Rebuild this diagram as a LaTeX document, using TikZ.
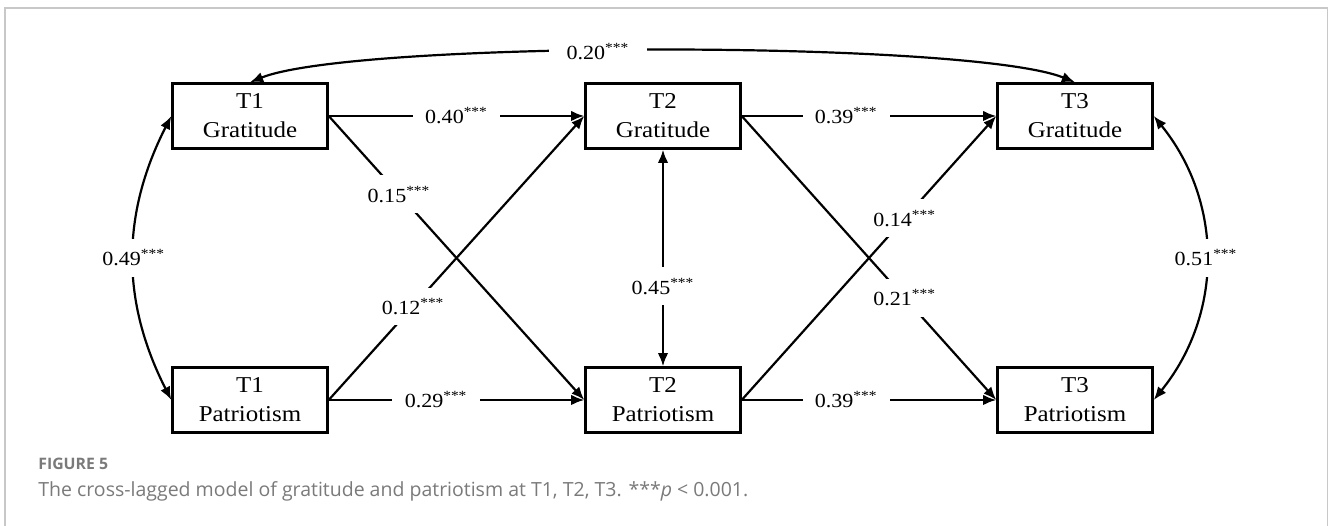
\documentclass[tikz,border=0pt]{standalone}
\usepackage{fontspec}
\setmainfont{Liberation Serif}[FakeStretch=1.1]
\newfontfamily\capfont{Open Sans}
\usetikzlibrary{arrows.meta,positioning}
\definecolor{framegray}{HTML}{C8C8C8}
\definecolor{capgray}{HTML}{7A7A7A}

\begin{document}
\begin{tikzpicture}[x=.02cm,y=.02cm,
  var/.style={draw,line width=1.4pt,minimum width=3.1cm,minimum height=1.3cm,align=center,inner sep=0pt,font=\fontsize{12.9}{16.5}\selectfont},
  coef/.style={fill=white,inner xsep=7pt,inner ysep=6pt,font=\fontsize{11.4}{13}\selectfont},
  reg/.style={line width=1.25pt,-{Latex[length=7.5pt,width=6pt]}},
  cov/.style={line width=1.25pt,{Latex[length=7.5pt,width=6pt]}-{Latex[length=7.5pt,width=6pt]}}]
\useasboundingbox (0,0) rectangle (1330,526);
\draw[framegray,line width=.9pt] (5,0)--(5,518)--(1327.5,518)--(1327.5,0);
% the six variables
\node[var] (G1) at (250,410) {T1\\Gratitude};
\node[var] (G2) at (663,410) {T2\\Gratitude};
\node[var] (G3) at (1075,410) {T3\\Gratitude};
\node[var] (P1) at (250,126) {T1\\Patriotism};
\node[var] (P2) at (663,126) {T2\\Patriotism};
\node[var] (P3) at (1075,126) {T3\\Patriotism};
% autoregressive paths
\draw[reg] (G1.east)--(G2.west) node[coef,pos=.5]{0.40\textsuperscript{***}};
\draw[reg] (G2.east)--(G3.west) node[coef,pos=.41]{0.39\textsuperscript{***}};
\draw[reg] (P1.east)--(P2.west) node[coef,pos=.42]{0.29\textsuperscript{***}};
\draw[reg] (P2.east)--(P3.west) node[coef,pos=.41]{0.39\textsuperscript{***}};
\draw[cov] (G1.north) to[out=22,in=158,looseness=.35] node[coef,pos=.44,inner xsep=10pt]{0.20\textsuperscript{***}} (G3.north);
% cross-lagged paths
\draw[reg] (G1.east)--(P2.west) node[coef,pos=.275]{0.15\textsuperscript{***}};
\draw[reg] (P1.east)--(G2.west) node[coef,pos=.33]{0.12\textsuperscript{***}};
\draw[reg] (G2.east)--(P3.west) node[coef,pos=.64]{0.21\textsuperscript{***}};
\draw[reg] (P2.east)--(G3.west) node[coef,pos=.64]{0.14\textsuperscript{***}};
% correlations
\draw[cov] (G1.west) to[out=243,in=117] node[coef]{0.49\textsuperscript{***}} (P1.west);
\draw[cov] (G2.south)--(P2.north) node[coef,pos=.63]{0.45\textsuperscript{***}};
\draw[cov] (G3.east) to[out=-51,in=51] node[coef]{0.51\textsuperscript{***}} (P3.east);
% caption
\node[anchor=base west,inner sep=0,text=capgray,font=\capfont\bfseries\fontsize{9}{11}\selectfont] (fig) at (38,56) {FIGURE 5};
\node[anchor=base west,inner sep=0,text=capgray,font=\capfont\fontsize{11.1}{13}\selectfont] (cap) at (38,29) {The cross-lagged model of gratitude and patriotism at T1, T2, T3. ***\textit{p} < 0.001.};
\end{tikzpicture}
\end{document}
